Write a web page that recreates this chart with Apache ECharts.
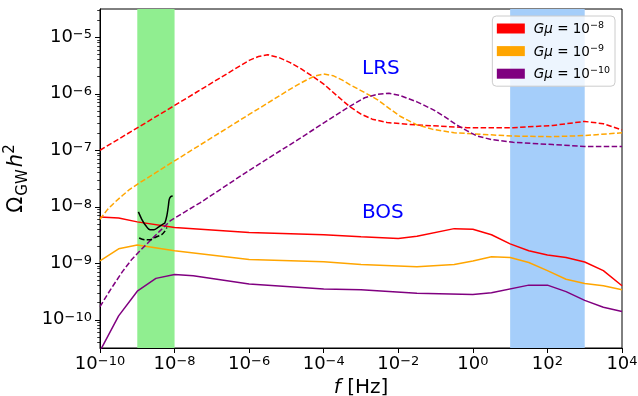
<!DOCTYPE html>
<html>
<head>
<meta charset="utf-8">
<script src="https://cdn.jsdelivr.net/npm/echarts@6/dist/echarts.min.js"></script>
<style>
  html, body { margin: 0; padding: 0; background: #fff; }
  #chart { width: 638px; height: 396px; }
</style>
</head>
<body>
<div id="chart"></div>
<script>
// f in Hz, Omega_GW h^2
const gmuExp = [-8, -9, -10];
const gmuColors = ["#ff0000", "#ffa500", "#800080"];

// LRS (dashed)
const lrsFreq8 = [1e-10, 1e-8, 1e-6, 1.78e-6, 3.16e-6, 6.3e-6, 1.26e-5, 2.5e-5, 5e-5, 1e-4, 2.24e-4, 5e-4, 1e-3, 2e-3, 5e-3, 2.8e-2, 0.7, 12, 140, 1000, 3162, 1e4];
const lrsOmega8 = [1.0e-7, 6.2e-7, 3.9e-6, 4.57e-6, 4.9e-6, 4.37e-6, 3.55e-6, 2.75e-6, 2.04e-6, 1.48e-6, 9.3e-7, 5.9e-7, 4.37e-7, 3.55e-7, 3.09e-7, 2.82e-7, 2.51e-7, 2.51e-7, 2.75e-7, 3.24e-7, 2.95e-7, 2.29e-7];

const lrsFreq9 = [1e-10, 1.58e-10, 2.5e-10, 4e-10, 6.3e-10, 1e-9, 1e-8, 1e-6, 1.58e-5, 3.16e-5, 5.6e-5, 1e-4, 1.78e-4, 3.16e-4, 5e-4, 1.26e-3, 2.8e-3, 6.3e-3, 1.12e-2, 3.16e-2, 8.5e-2, 0.316, 2, 12, 140, 1000, 1e4];
const lrsOmega9 = [6.0e-9, 8.9e-9, 1.2e-8, 1.58e-8, 2.04e-8, 2.5e-8, 6.5e-8, 4.3e-7, 1.32e-6, 1.7e-6, 2.04e-6, 2.24e-6, 2.09e-6, 1.74e-6, 1.45e-6, 1.05e-6, 7.8e-7, 5.25e-7, 4.0e-7, 2.82e-7, 2.34e-7, 2.04e-7, 1.9e-7, 1.78e-7, 1.74e-7, 1.82e-7, 2.04e-7];

const lrsFreq10 = [1e-10, 1.58e-10, 2.24e-10, 4e-10, 7.1e-10, 1.26e-9, 2.2e-9, 4e-9, 7.6e-9, 2e-8, 4.8e-8, 1e-6, 2.3e-5, 7.9e-5, 5e-4, 1.26e-3, 2.8e-3, 5.6e-3, 1.12e-2, 3.16e-2, 8.5e-2, 0.178, 0.37, 0.71, 1.3, 3.16, 12, 140, 1000, 1e4];
const lrsOmega10 = [1.7e-10, 2.8e-10, 4.0e-10, 7.1e-10, 1.17e-9, 1.74e-9, 2.5e-9, 3.7e-9, 5.6e-9, 8.3e-9, 1.17e-8, 4.4e-8, 1.62e-7, 2.75e-7, 6.0e-7, 8.5e-7, 9.8e-7, 1.02e-6, 9.3e-7, 7.2e-7, 5.25e-7, 3.9e-7, 2.8e-7, 2.2e-7, 1.78e-7, 1.55e-7, 1.38e-7, 1.26e-7, 1.17e-7, 1.17e-7];

// BOS (solid)
const bosFreq8 = [1e-10, 3.16e-10, 1e-9, 1e-8, 1e-6, 1e-4, 1e-3, 1e-2, 3.16e-2, 0.316, 1, 3.16, 10, 31.6, 100, 316, 1000, 3162, 1e4];
const bosOmega8 = [6.6e-9, 6.3e-9, 5.4e-9, 4.3e-9, 3.5e-9, 3.2e-9, 2.95e-9, 2.75e-9, 3.0e-9, 4.1e-9, 4.0e-9, 3.2e-9, 2.2e-9, 1.66e-9, 1.4e-9, 1.26e-9, 1.05e-9, 7.4e-10, 4.0e-10];

const bosFreq9 = [1e-10, 3.16e-10, 1e-9, 1e-8, 1e-6, 1e-4, 1e-3, 3.16e-2, 0.316, 1, 3.16, 10, 31.6, 100, 316, 1000, 3162, 1e4];
const bosOmega9 = [1.1e-9, 1.8e-9, 2.1e-9, 1.66e-9, 1.17e-9, 1.06e-9, 9.5e-10, 8.7e-10, 9.5e-10, 1.1e-9, 1.3e-9, 1.26e-9, 1.03e-9, 7.4e-10, 5.2e-10, 4.4e-10, 4.0e-10, 3.4e-10];

const bosFreq10 = [1e-10, 3.16e-10, 1e-9, 3.16e-9, 1e-8, 3.16e-8, 1e-6, 1e-4, 1e-3, 3.16e-2, 1, 3.16, 31.6, 100, 316, 1000, 3162, 1e4];
const bosOmega10 = [2.8e-11, 1.17e-10, 3.2e-10, 5.4e-10, 6.3e-10, 6.0e-10, 4.3e-10, 3.5e-10, 3.4e-10, 2.95e-10, 2.8e-10, 3.0e-10, 4.1e-10, 4.1e-10, 3.15e-10, 2.2e-10, 1.66e-10, 1.4e-10];

// PTA signal (black)
const ptaFreq = [1.07e-9, 1.32e-9, 1.7e-9, 2.2e-9, 2.8e-9, 3.6e-9, 4.8e-9, 5.5e-9, 6.2e-9, 6.8e-9, 7.2e-9, 7.9e-9, 8.9e-9];
const ptaOmega = [8.1e-9, 6.0e-9, 4.6e-9, 3.9e-9, 3.9e-9, 4.3e-9, 4.9e-9, 5.2e-9, 6.9e-9, 1.02e-8, 1.35e-8, 1.51e-8, 1.55e-8];
const ptaFreq2 = [1.12e-9, 1.62e-9, 2.2e-9, 3.3e-9, 4.5e-9, 5.5e-9, 6.2e-9];
const ptaOmega2 = [2.8e-9, 2.6e-9, 2.6e-9, 2.95e-9, 3.2e-9, 3.7e-9, 4.3e-9];

// shaded bands
const ptaBand = [1e-9, 1e-8];
const groundBand = [10, 1000];

const xMajor = [-10, -8, -6, -4, -2, 0, 2, 4];
const yMajor = [-10, -9, -8, -7, -6, -5];

const FONT = "DejaVu Sans";
const yMin = -10.5, yMax = -4.5;

const yMinor = [];
for (let n = -11; n <= -5; n++) {
  for (let k = 2; k <= 9; k++) {
    const v = n + Math.log10(k);
    if (v > yMin && v < yMax) yMinor.push(v);
  }
}

const toLog = (fr, om) => fr.map((f, i) => [Math.log10(f), Math.log10(om[i])]);
const gmuName = (e) => "Gmu=1e" + e;

const powLabel = (v) => "{b|10}{s|" + (v < 0 ? "\u2212" : "") + Math.abs(Math.round(v)) + "}";

const tickRich = {
  b: { fontFamily: FONT, fontSize: 18, lineHeight: 18, padding: [2, 0, 0, 0], verticalAlign: "bottom", color: "#000" },
  s: { fontFamily: FONT, fontSize: 13, lineHeight: 13, verticalAlign: "top", color: "#000" },
};

const lrsData = [toLog(lrsFreq8, lrsOmega8), toLog(lrsFreq9, lrsOmega9), toLog(lrsFreq10, lrsOmega10)];
const bosData = [toLog(bosFreq8, bosOmega8), toLog(bosFreq9, bosOmega9), toLog(bosFreq10, bosOmega10)];

const series = [];

// bands
series.push({
  type: "line",
  name: "bands",
  data: [],
  silent: true,
  markArea: {
    silent: true,
    data: [
      [{ xAxis: Math.log10(ptaBand[0]), itemStyle: { color: "#90ee90" } }, { xAxis: Math.log10(ptaBand[1]) }],
      [{ xAxis: Math.log10(groundBand[0]), itemStyle: { color: "#a5cefa" } }, { xAxis: Math.log10(groundBand[1]) }],
    ],
  },
});

gmuExp.forEach((e, i) => {
  series.push({
    type: "line",
    name: gmuName(e),
    data: bosData[i],
    showSymbol: false,
    itemStyle: { color: gmuColors[i] },
    lineStyle: { color: gmuColors[i], width: 1.5 },
    z: 3,
  });
  series.push({
    type: "line",
    name: gmuName(e),
    data: lrsData[i],
    showSymbol: false,
    itemStyle: { color: gmuColors[i] },
    lineStyle: { color: gmuColors[i], width: 1.5, type: [5.5, 2.4] },
    z: 3,
  });
});

series.push({
  type: "line",
  name: "pta",
  data: toLog(ptaFreq, ptaOmega),
  showSymbol: false,
  smooth: 0.3,
  lineStyle: { color: "#000", width: 1.5 },
  z: 4,
});
series.push({
  type: "line",
  name: "pta2",
  data: toLog(ptaFreq2, ptaOmega2),
  showSymbol: false,
  smooth: 0.3,
  lineStyle: { color: "#000", width: 1.5, type: [5.5, 2.4] },
  z: 4,
});

const chart = echarts.init(document.getElementById("chart"));

chart.setOption({
  animation: false,
  backgroundColor: "#fff",
  grid: {
    left: 100, right: 16, top: 9, bottom: 48,
    containLabel: false,
    outerBoundsMode: "none",
    show: true, borderColor: "#000", borderWidth: 1, backgroundColor: "transparent",
  },
  legend: {
    data: gmuExp.map(gmuName),
    orient: "vertical",
    right: 23,
    top: 16,
    icon: "rect",
    itemWidth: 28,
    itemHeight: 10,
    itemGap: 6.6,
    padding: [4.5, 5, 4.5, 4.5],
    backgroundColor: "rgba(255,255,255,0.8)",
    borderColor: "#cccccc",
    borderWidth: 1,
    borderRadius: 4,
    selectedMode: false,
    itemStyle: { borderWidth: 0 },
    formatter: (name) => {
      const e = gmuExp[gmuExp.map(gmuName).indexOf(name)];
      return "{i|G\u03bc}{n| = 10}{s|\u2212" + Math.abs(e) + "}";
    },
    textStyle: {
      fontFamily: FONT,
      padding: [0, 0, 0, 4],
      rich: {
        i: { fontFamily: FONT, fontSize: 13.5, fontStyle: "italic", lineHeight: 16, verticalAlign: "bottom", color: "#000" },
        n: { fontFamily: FONT, fontSize: 13.5, lineHeight: 16, verticalAlign: "bottom", color: "#000" },
        s: { fontFamily: FONT, fontSize: 9.5, lineHeight: 10, verticalAlign: "top", color: "#000" },
      },
    },
  },
  xAxis: {
    type: "value",
    min: -10,
    max: 4,
    name: "{i|f} [Hz]",
    nameLocation: "middle",
    nameGap: 27,
    nameTextStyle: {
      fontFamily: FONT, fontSize: 20, color: "#000",
      rich: { i: { fontFamily: FONT, fontSize: 20, fontStyle: "italic", color: "#000" } },
    },
    axisLine: { show: true, onZero: false, lineStyle: { color: "#000", width: 1 } },
    axisTick: { show: true, length: 5, customValues: xMajor, lineStyle: { color: "#000", width: 1 } },
    axisLabel: { customValues: xMajor, margin: 7, formatter: powLabel, rich: tickRich },
    splitLine: { show: false },
  },
  yAxis: [
    {
      type: "value",
      min: yMin,
      max: yMax,
      name: "{o|\u03a9}{sub|GW}{h|h}{sup|2}",
      nameLocation: "middle",
      nameGap: 66,
      nameTextStyle: {
        fontFamily: FONT, fontSize: 20, color: "#000",
        rich: {
          o: { fontFamily: FONT, fontSize: 21, lineHeight: 28, verticalAlign: "middle", padding: [0, 1, 0, 0], color: "#000" },
          sub: { fontFamily: FONT, fontSize: 15, lineHeight: 15, verticalAlign: "bottom", padding: [0, 2, 0, 0], color: "#000" },
          h: { fontFamily: FONT, fontSize: 21, fontStyle: "italic", lineHeight: 28, verticalAlign: "middle", color: "#000" },
          sup: { fontFamily: FONT, fontSize: 15, lineHeight: 15, verticalAlign: "top", color: "#000" },
        },
      },
      axisLine: { show: true, onZero: false, lineStyle: { color: "#000", width: 1 } },
      axisTick: { show: true, length: 5, customValues: yMajor, lineStyle: { color: "#000", width: 1 } },
      axisLabel: { customValues: yMajor, margin: 8, formatter: powLabel, rich: tickRich },
      splitLine: { show: false },
    },
    {
      type: "value",
      min: yMin,
      max: yMax,
      position: "left",
      axisLine: { show: false, onZero: false },
      axisTick: { show: true, length: 2.8, customValues: yMinor, lineStyle: { color: "#000", width: 0.8 } },
      axisLabel: { show: false },
      splitLine: { show: false },
    },
  ],
  graphic: [
    { type: "text", left: 362, top: 59, style: { text: "LRS", fontFamily: FONT, fontSize: 20, fill: "#0000ff" } },
    { type: "text", left: 362, top: 203, style: { text: "BOS", fontFamily: FONT, fontSize: 20, fill: "#0000ff" } },
  ],
  series: series,
});
</script>
</body>
</html>
